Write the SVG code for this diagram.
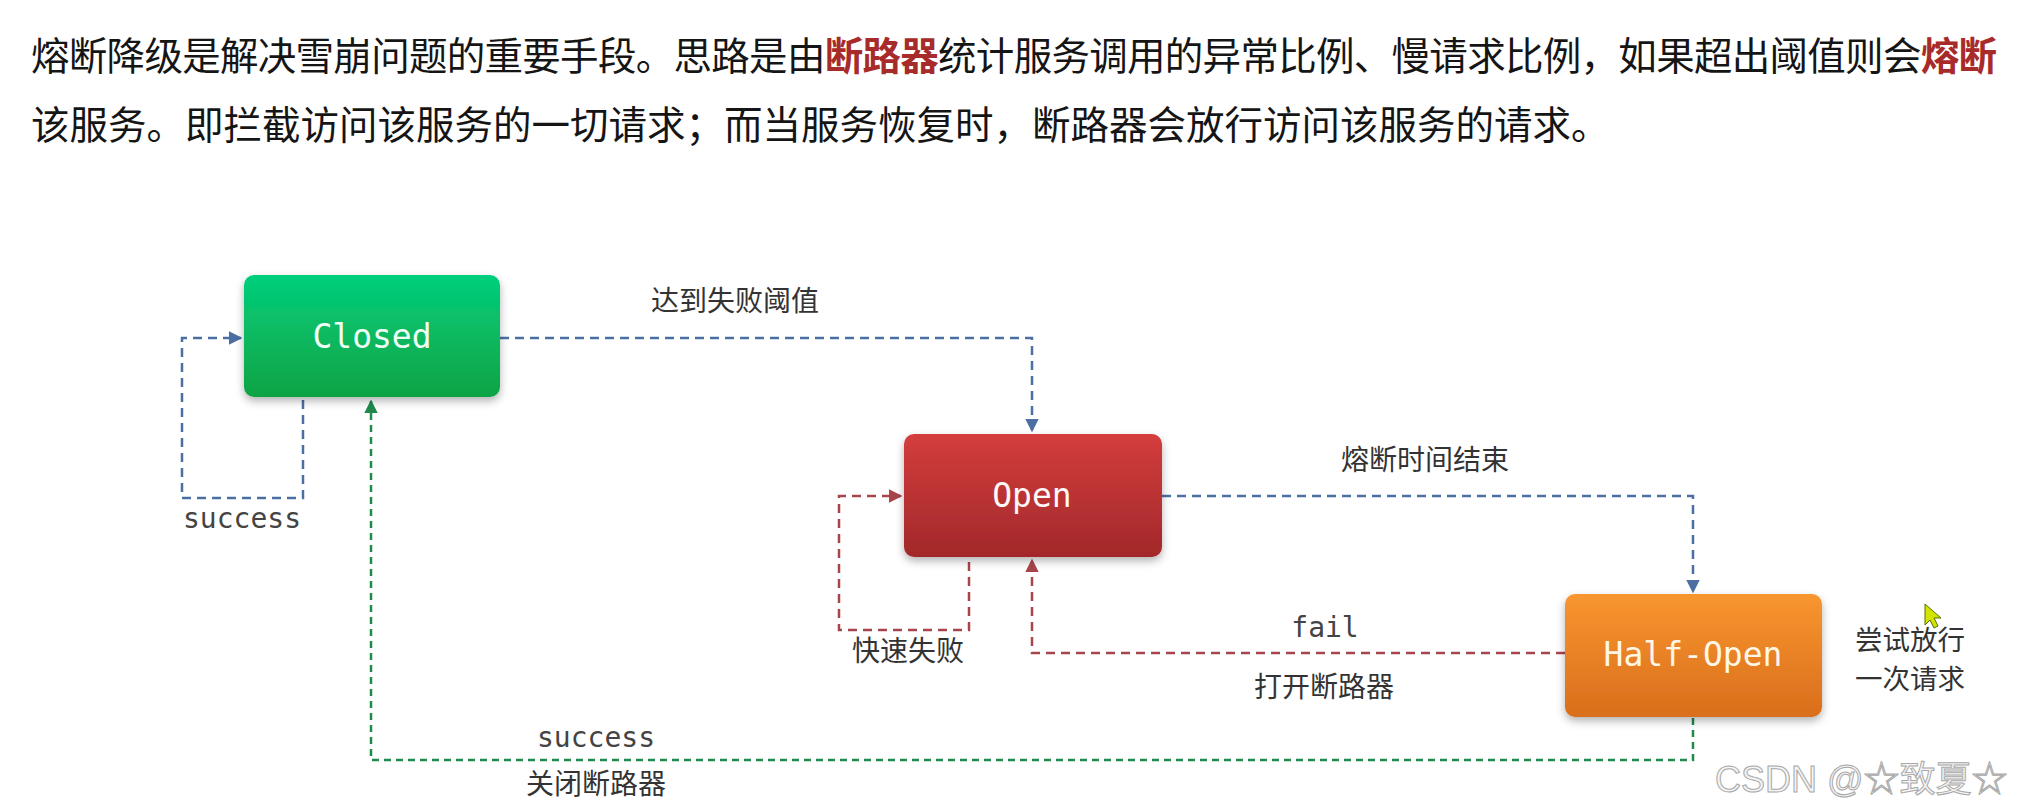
<svg xmlns="http://www.w3.org/2000/svg" width="2022" height="811" viewBox="0 0 2022 811">
<style>
.para{font-family:"Noto Sans CJK SC","Noto Sans",sans-serif;font-size:38.5px;fill:#151515}
.hl{fill:#a82b2b;font-weight:bold}
.node{font-family:"DejaVu Sans Mono","Liberation Mono",monospace;font-size:33px;text-anchor:middle}
.lbl{font-family:"Noto Sans CJK SC","Noto Sans",sans-serif;font-size:28px;fill:#333}
.mono{font-family:"DejaVu Sans Mono","Liberation Mono",monospace;font-size:28px;fill:#444}
.c{text-anchor:middle}
.blue{fill:none;stroke:#4b6fa3;stroke-width:2.5;stroke-dasharray:9 6}
.red{fill:none;stroke:#a8444b;stroke-width:2.5;stroke-dasharray:9 6}
.green{fill:none;stroke:#1f8a4c;stroke-width:2.5;stroke-dasharray:7 5}
.wm{font-family:"Liberation Sans","Noto Sans CJK SC",sans-serif;font-size:36px;fill:#f4f4f4;stroke:#a8a8a8;stroke-width:1}
</style>
<defs>
<linearGradient id="gG" x1="0" y1="0" x2="0" y2="1"><stop offset="0" stop-color="#03cf7c"/><stop offset="1" stop-color="#10a344"/></linearGradient>
<linearGradient id="gR" x1="0" y1="0" x2="0" y2="1"><stop offset="0" stop-color="#d43d3d"/><stop offset="1" stop-color="#a2282a"/></linearGradient>
<linearGradient id="gO" x1="0" y1="0" x2="0" y2="1"><stop offset="0" stop-color="#f8962f"/><stop offset="1" stop-color="#d96e1c"/></linearGradient>
<filter id="sh" x="-10%" y="-10%" width="120%" height="130%"><feDropShadow dx="0" dy="4" stdDeviation="4" flood-color="#000" flood-opacity="0.3"/></filter>
<marker id="aB" viewBox="0 0 10 10" refX="9" refY="5" markerWidth="5.5" markerHeight="5.5" orient="auto" markerUnits="strokeWidth"><path d="M0 0L10 5L0 10z" fill="#4b6fa3"/></marker>
<marker id="aR" viewBox="0 0 10 10" refX="9" refY="5" markerWidth="5.5" markerHeight="5.5" orient="auto" markerUnits="strokeWidth"><path d="M0 0L10 5L0 10z" fill="#a8444b"/></marker>
<marker id="aG" viewBox="0 0 10 10" refX="9" refY="5" markerWidth="5.5" markerHeight="5.5" orient="auto" markerUnits="strokeWidth"><path d="M0 0L10 5L0 10z" fill="#1f8a4c"/></marker>
</defs>
<rect width="2022" height="811" fill="#fff"/>
<g id="intro">
<text class="para" x="31" y="70" textLength="1966" lengthAdjust="spacing">熔断降级是解决雪崩问题的重要手段。思路是由<tspan class="hl">断路器</tspan>统计服务调用的异常比例、慢请求比例，如果超出阈值则会<tspan class="hl">熔断</tspan></text>
<text class="para" x="31" y="139">该服务。即拦截访问该服务的一切请求；而当服务恢复时，断路器会放行访问该服务的请求。</text>
</g>
<g id="connectors">
<path class="blue" d="M303 400V498H182V338H241" marker-end="url(#aB)"/>
<path class="blue" d="M500 338H1032V431" marker-end="url(#aB)"/>
<path class="red" d="M969 562V630H839V496H901" marker-end="url(#aR)"/>
<path class="blue" d="M1162 496H1693V592" marker-end="url(#aB)"/>
<path class="red" d="M1565 653H1032V560" marker-end="url(#aR)"/>
<path class="green" d="M1693 718V760H371V401" marker-end="url(#aG)"/>
</g>
<g id="labels">
<text class="lbl c" x="735" y="311">达到失败阈值</text>
<text class="mono" x="183" y="528">success</text>
<text class="lbl c" x="1425" y="470">熔断时间结束</text>
<text class="lbl c" x="908" y="661">快速失败</text>
<text class="mono c" x="1325" y="637">fail</text>
<text class="lbl c" x="1324" y="697">打开断路器</text>
<text class="lbl" x="1855" y="650" style="font-size:27.5px">尝试放行</text>
<text class="lbl" x="1855" y="689" style="font-size:27.5px">一次请求</text>
<text class="mono c" x="596" y="747">success</text>
<text class="lbl c" x="596" y="794">关闭断路器</text>
</g>
<g id="closed">
<rect x="244" y="275" width="256" height="122" rx="10" fill="url(#gG)" filter="url(#sh)"/>
<text class="node" x="372" y="348" fill="#effff5">Closed</text>
</g>
<g id="open">
<rect x="904" y="434" width="258" height="123" rx="10" fill="url(#gR)" filter="url(#sh)"/>
<text class="node" x="1032" y="507" fill="#fff8f8">Open</text>
</g>
<g id="half-open">
<rect x="1565" y="594" width="257" height="123" rx="10" fill="url(#gO)" filter="url(#sh)"/>
<text class="node" x="1693" y="666" fill="#fff6e6">Half-Open</text>
</g>
<text class="wm" x="1715" y="792">CSDN @☆致夏☆</text>
<path d="M1925 604L1925 625L1930 620L1934 628L1938 626L1934 618L1941 618Z" fill="#d2e400" stroke="#5a6e00" stroke-width="1"/>
</svg>
